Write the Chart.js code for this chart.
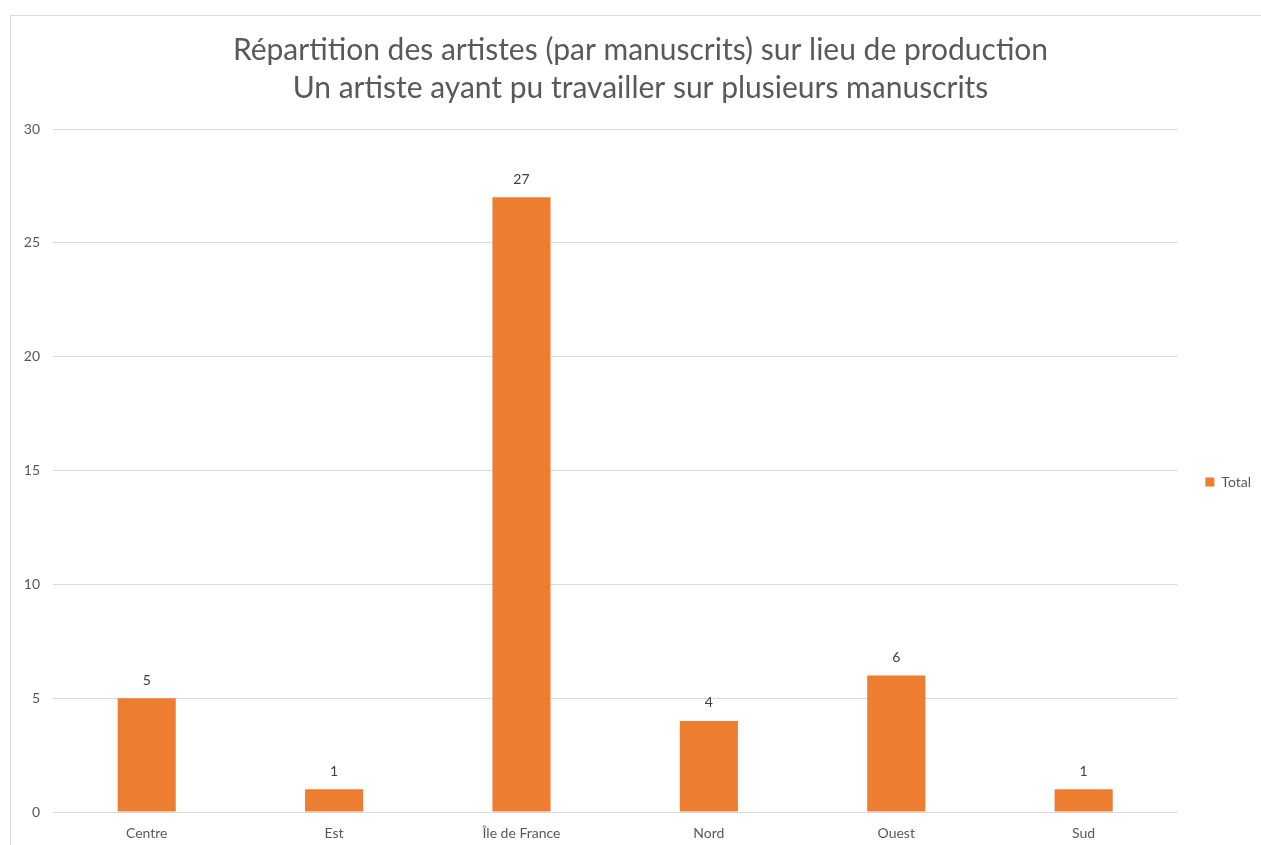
<!DOCTYPE html>
<html lang="fr">
<head>
<meta charset="utf-8">
<title>Répartition des artistes</title>
<script src="https://cdn.jsdelivr.net/npm/chart.js@4"></script>
<style>
  html, body { margin: 0; padding: 0; background: #fff; overflow: hidden; }
  #cadre {
    position: absolute; left: 10px; top: 15px;
    width: 1400px; height: 1000px;
    border: 1px solid #d9d9d9;
  }
  #wrap { position: absolute; left: 0; top: 0; width: 1261px; height: 845px; }
</style>
</head>
<body>
<div id="cadre"></div>
<div id="wrap"><canvas id="myChart"></canvas></div>
<script>
// Données du graphique
const lieux = ['Centre', 'Est', 'Île de France', 'Nord', 'Ouest', 'Sud'];
const totaux = [5, 1, 27, 4, 6, 1];
const titre = [
    'Répartition des artistes (par manuscrits) sur lieu de production',
    'Un artiste ayant pu travailler sur plusieurs manuscrits'
];
const nomSerie = 'Total';

const gris = '#595959';
const police = 'Lato, "Open Sans", sans-serif';

// Étiquettes de valeur au-dessus des barres
const etiquettes = {
    id: 'etiquettes',
    afterDatasetsDraw(chart) {
        const c = chart.ctx;
        const meta = chart.getDatasetMeta(0);
        c.save();
        c.font = '14px ' + police;
        c.fillStyle = '#404040';
        c.textAlign = 'center';
        c.textBaseline = 'middle';
        meta.data.forEach((bar, i) => {
            c.fillText(String(chart.data.datasets[0].data[i]), bar.x, bar.y - 18);
        });
        c.restore();
    }
};

const ctx = document.getElementById('myChart').getContext('2d');
const myChart = new Chart(ctx, {
    type: 'bar',
    data: {
        labels: lieux,
        datasets: [{
            label: nomSerie,
            data: totaux,
            backgroundColor: '#ED7D31',
            borderWidth: 0,
            categoryPercentage: 1,
            barPercentage: 0.31
        }]
    },
    options: {
        responsive: true,
        maintainAspectRatio: false,
        animation: false,
        layout: { padding: { left: 20, right: 0, top: 31, bottom: 0 } },
        plugins: {
            title: {
                display: true,
                text: titre,
                color: gris,
                font: { family: police, size: 30, weight: 'normal', lineHeight: 1.267 },
                padding: { top: 0, bottom: 22 }
            },
            legend: {
                position: 'right',
                fullSize: false,
                // titre vide : sert seulement à décaler la légende vers le bas
                title: { display: true, text: '', font: { size: 11, lineHeight: 1 }, padding: { top: 6, bottom: 6 } },
                labels: {
                    color: gris,
                    font: { family: police, size: 14 },
                    boxWidth: 9,
                    boxHeight: 9,
                    padding: 28
                }
            },
            tooltip: { enabled: false }
        },
        scales: {
            x: {
                grid: { display: false },
                border: { display: false },
                ticks: {
                    color: gris,
                    font: { family: police, size: 14 },
                    padding: 5,
                    maxRotation: 0
                },
                afterFit(scale) { scale.height = 33; }
            },
            y: {
                min: 0,
                max: 30,
                border: { display: false },
                grid: { color: '#d9d9d9', drawTicks: false },
                ticks: {
                    stepSize: 5,
                    color: gris,
                    font: { family: police, size: 14 },
                    padding: 13
                },
                afterFit(scale) { scale.width = 33; }
            }
        }
    },
    plugins: [etiquettes]
});
</script>
</body>
</html>
